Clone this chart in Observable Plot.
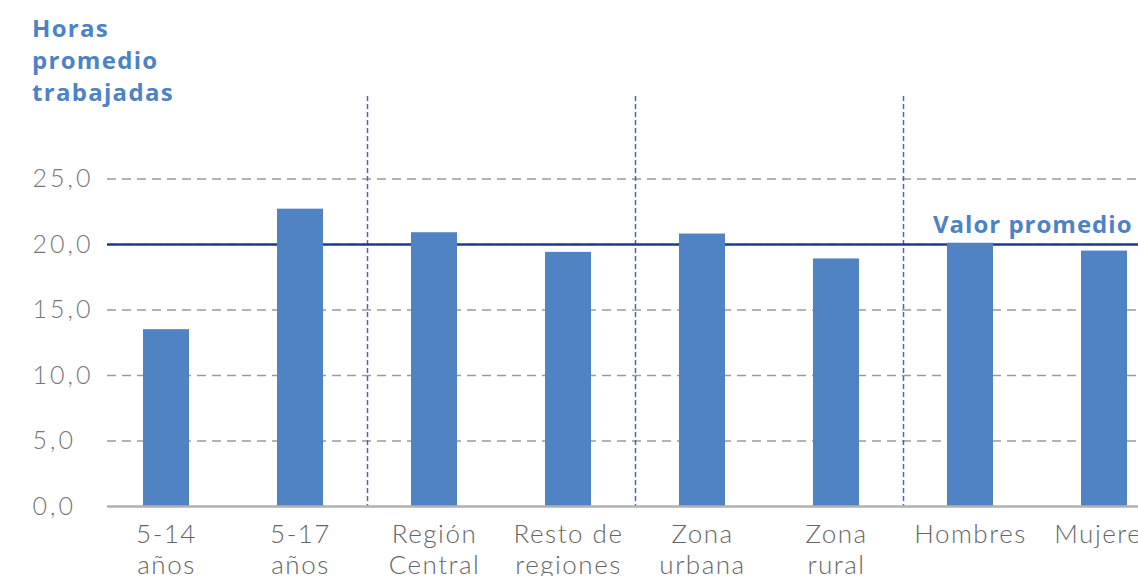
<!DOCTYPE html>
<html>
<head>
<meta charset="utf-8">
<script src="https://cdn.jsdelivr.net/npm/d3@7"></script>
<script src="https://cdn.jsdelivr.net/npm/@observablehq/plot@0.6"></script>
<style>
  html, body { margin: 0; padding: 0; background: #fff; overflow: hidden; width: 1138px; height: 576px; }
  #wrap { position: relative; width: 1138px; height: 576px; }
  #title { position: absolute; left: 32px; top: 12px; font-family: "Open Sans", sans-serif; font-weight: 700;
           font-size: 24px; letter-spacing: 1.3px; line-height: 32px; color: #4d82c4; z-index: 2; }
</style>
</head>
<body>
<div id="wrap">
  <div id="title">Horas<br>promedio<br>trabajadas</div>
  <div id="chart"></div>
</div>
<script>
const categories = ["5-14\naños", "5-17\naños", "Región\nCentral", "Resto de\nregiones", "Zona\nurbana", "Zona\nrural", "Hombres", "Mujeres"];
const values = [13.5, 22.7, 20.9, 19.4, 20.8, 18.9, 20.1, 19.5];
const meanValue = 20.0;
const meanLabel = "Valor promedio";
const yTicks = [0, 5, 10, 15, 20, 25];
const groupEnds = ["5-17\naños", "Resto de\nregiones", "Zona\nrural"];

const data = categories.map((c, i) => ({cat: c, value: values[i]}));
const fmt = d => d3.format(".1f")(d).replace(".", ",");

const chart = Plot.plot({
  width: 1138,
  height: 576,
  marginLeft: 107,
  marginRight: 0,
  marginTop: 96,
  marginBottom: 70,
  style: {fontFamily: "Lato, sans-serif", background: "transparent", overflow: "visible"},
  x: {domain: categories, range: [98.7, 1170.7], paddingInner: 0.657, paddingOuter: 0.3285, axis: null},
  y: {domain: [0, 31.3], axis: null},
  marks: [
    Plot.ruleY(yTicks.filter(d => d > 0), {stroke: "#9a9a9a", strokeWidth: 1.5, strokeDasharray: "9,6"}),
    Plot.ruleX(groupEnds, {x: d => d, dx: 67, stroke: "#4169ad", strokeWidth: 1.5, strokeDasharray: "5,3"}),
    Plot.ruleY([meanValue], {stroke: "#1c3c8c", strokeWidth: 2.5}),
    Plot.barY(data, {x: "cat", y: "value", fill: "#4f83c4"}),
    Plot.ruleY([0], {stroke: "#b0b0b0", strokeWidth: 2.5}),
    Plot.text(yTicks, {y: d => d, text: d => fmt(d), frameAnchor: "left", textAnchor: "start", dx: 32 - 107,
      fill: "#777", fontSize: 25, fontWeight: 300, ariaLabel: () => "ytick"}),
    Plot.text(categories, {x: d => d, text: d => d, frameAnchor: "bottom", lineAnchor: "top", dy: 14,
      fill: "#666", fontSize: 26, fontWeight: 300, lineHeight: 1.2, ariaLabel: () => "xlabel"}),
    Plot.text([meanValue], {y: d => d, text: () => meanLabel, frameAnchor: "right", textAnchor: "end",
      lineAnchor: "bottom", dx: -6, dy: -12, fill: "#4d82c4", fontWeight: 700, fontSize: 24,
      fontFamily: "Open Sans, sans-serif", ariaLabel: () => "meanlabel"})
  ]
});
d3.select(chart).selectAll('text[aria-label="ytick"]').style("letter-spacing", "3px");
d3.select(chart).selectAll('text[aria-label="xlabel"]').style("letter-spacing", "1.5px");
d3.select(chart).selectAll('text[aria-label="meanlabel"]').style("letter-spacing", "1px");
document.getElementById("chart").appendChild(chart);
</script>
</body>
</html>
